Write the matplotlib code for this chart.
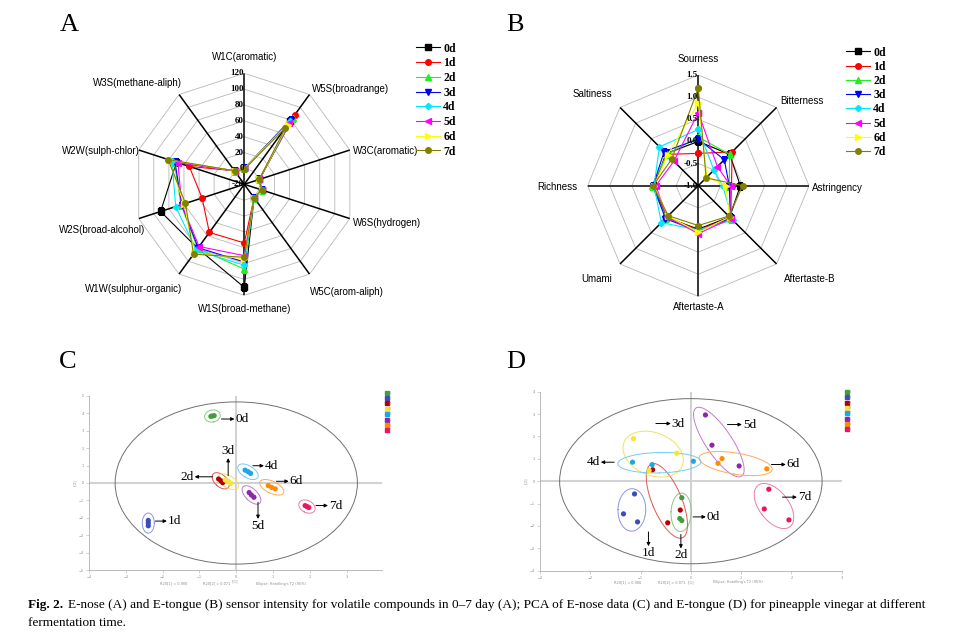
import numpy as np
import matplotlib
matplotlib.use("Agg")
import matplotlib.pyplot as plt
from matplotlib.lines import Line2D
from matplotlib.patches import Ellipse
from matplotlib.font_manager import FontProperties

# ---------------- data ----------------
days = ["0d", "1d", "2d", "3d", "4d", "5d", "6d", "7d"]

# E-nose sensors (panel A), clockwise from top
sensors = ["W1C(aromatic)", "W5S(broadrange)", "W3C(aromatic)", "W6S(hydrogen)",
           "W5C(arom-aliph)", "W1S(broad-methane)", "W1W(sulphur-organic)",
           "W2S(broad-alcohol)", "W2W(sulph-chlor)", "W3S(methane-aliph)"]
enose_0d = [0, 78, 0, 3, 1, 110, 80, 91, 70, 1]
enose_1d = [-1, 88, 0, 3, 1, 54, 55, 36, 53, 1]
enose_2d = [0, 84, 0, 3, 1, 87, 80, 64, 73, 1]
enose_3d = [0, 80, 0, 3, 1, 78, 79, 63, 72, 1]
enose_4d = [-1, 79, 0, 3, 1, 82, 83, 71, 76, 1]
enose_5d = [0, 76, 0, 3, 1, 70, 77, 63, 68, 1]
enose_6d = [0, 73, 0, 3, 1, 74, 87, 60, 80, 1]
enose_7d = [-1, 68, 0, 3, 1, 72, 89, 58, 81, 1]
enose_ticks = [-20, 0, 20, 40, 60, 80, 100, 120]

# E-tongue attributes (panel B), clockwise from top
tastes = ["Sourness", "Bitterness", "Astringency", "Aftertaste-B",
          "Aftertaste-A", "Umami", "Richness", "Saltiness"]
tongue_0d = [0.00, 0.00, -0.05, 0.00, -0.02, 0.02, 0.00, 0.03]
tongue_1d = [-0.27, 0.08, -0.25, 0.02, 0.00, 0.00, 0.00, 0.00]
tongue_2d = [0.10, 0.00, -0.30, 0.05, 0.02, 0.02, 0.05, 0.00]
tongue_3d = [0.05, -0.17, -0.30, 0.03, 0.03, 0.05, 0.02, 0.09]
tongue_4d = [0.27, -0.50, -0.45, 0.10, 0.00, 0.18, 0.00, 0.24]
tongue_5d = [0.65, -0.39, -0.27, 0.05, 0.08, 0.00, -0.04, -0.22]
tongue_6d = [0.87, -0.72, -0.38, 0.00, 0.05, -0.03, 0.00, -0.02]
tongue_7d = [1.20, -0.75, 0.00, -0.03, -0.10, -0.04, 0.02, -0.15]
tongue_ticks = [-1.0, -0.5, 0.0, 0.5, 1.0, 1.5]

# PCA scores, E-nose (panel C): three replicates per day
c_t1 = [[-0.69, -0.65, -0.60], [-2.39, -2.39, -2.39], [-0.48, -0.42, -0.37],
        [-0.30, -0.21, -0.15], [0.24, 0.32, 0.39], [0.35, 0.41, 0.48],
        [0.87, 0.96, 1.06], [1.87, 1.92, 1.97]]
c_t2 = [[3.83, 3.85, 3.87], [-2.15, -2.30, -2.46], [0.23, 0.13, 0.02],
        [0.17, 0.08, -0.02], [0.74, 0.65, 0.55], [-0.55, -0.69, -0.82],
        [-0.15, -0.25, -0.34], [-1.30, -1.35, -1.41]]
c_hotelling = (3.29, 4.66)

# PCA scores, E-tongue (panel D)
d_t1 = [[-0.18, -0.22, -0.18], [-1.12, -1.34, -1.06], [-0.76, -0.21, -0.46],
        [-1.14, -0.28, -0.83], [-1.16, -0.77, 0.05], [0.29, 0.42, 0.96],
        [0.62, 0.54, 1.51], [1.55, 1.46, 1.95]]
d_t2 = [[-0.74, -1.67, -1.76], [-0.57, -1.46, -1.82], [0.51, -1.29, -1.86],
        [1.90, 1.25, 0.48], [0.85, 0.74, 0.89], [2.96, 1.61, 0.68],
        [1.01, 0.80, 0.55], [-0.36, -1.24, -1.73]]
d_hotelling = (2.61, 3.69)

# ---------------- styles ----------------
line_colors = ["#000000", "#ff0000", "#22ee22", "#0000ff", "#00e8ff", "#ff00ff", "#ffff00", "#808000"]
line_markers = ["s", "o", "^", "v", "D", "<", ">", "o"]
dot_colors = ["#3f9f3f", "#3a4dbb", "#b30000", "#f7e43a", "#1ea5ea", "#8e25aa", "#ff8c00", "#e8175d"]
ring_colors = ["#86c986", "#8a96e0", "#e05858", "#f2e060", "#72cdf2", "#c27ad4", "#ffab55", "#f27aa0"]

serif = "Liberation Serif"
sans = "Liberation Sans"

fig = plt.figure(figsize=(9.55, 6.35), dpi=100)
W, H = 955.0, 635.0


def fig_rect(x0, y0, x1, y1):
    return [x0 / W, 1 - y1 / H, (x1 - x0) / W, (y1 - y0) / H]


def radar(ax, labels, series, ticks, ticklabels, label_pos):
    n = len(labels)
    ang = np.arange(n) * 2 * np.pi / n
    closed = np.append(ang, ang[0])
    rmin, rmax = ticks[0], ticks[-1]
    ax.set_theta_zero_location("N")
    ax.set_theta_direction(-1)
    ax.set_ylim(rmin, rmax)
    ax.grid(False)
    ax.set_xticks([])
    ax.set_yticks([])
    ax.spines["polar"].set_visible(False)
    ax.patch.set_alpha(0)
    for lv in ticks[1:]:
        ax.plot(closed, [lv] * (n + 1), color="#b8b8b8", lw=0.6, zorder=1)
    for a in ang:
        ax.plot([a, a], [rmin, rmax], color="k", lw=1.1, zorder=2)
    for lv, tl in zip(ticks, ticklabels):
        ax.annotate(tl, xy=(0, lv), xytext=(-0.3, 0), textcoords="offset points",
                    ha="right", va="center", fontsize=6.5, fontweight="bold",
                    family=serif, zorder=6)
    handles = []
    for vals, c, m, d in zip(series, line_colors, line_markers, days):
        v = np.append(vals, vals[0])
        ms = 3.2 if m == "D" else 4
        ln, = ax.plot(closed, v, color=c, marker=m, ms=ms, lw=0.8, label=d, zorder=3)
        handles.append(ln)
    for a, lab, (dx, dy, ha) in zip(ang, labels, label_pos):
        ax.annotate(lab, xy=(a, rmax), xytext=(dx, dy), textcoords="offset points",
                    ha=ha, va="center", fontsize=7, family=sans, annotation_clip=False)
    return handles


# ---------------- panel A ----------------
axA = fig.add_axes(fig_rect(133.3, 73.3, 355.3, 295.3), projection="polar")
posA = [(0, 11.5, "center"), (1.5, 3.7, "left"), (2.2, -0.7, "left"), (2.2, -3, "left"),
        (0, -13.2, "left"), (0, -10, "center"), (2, -10.7, "right"), (4.6, -8.2, "right"),
        (0.5, -0.7, "right"), (2, 8, "right")]
hA = radar(axA, sensors,
           [enose_0d, enose_1d, enose_2d, enose_3d, enose_4d, enose_5d, enose_6d, enose_7d],
           enose_ticks, [str(t) for t in enose_ticks], posA)

# ---------------- panel B ----------------
axB = fig.add_axes(fig_rect(587.6, 75.0, 809.0, 296.4), projection="polar")
posB = [(0, 11.5, "center"), (2.5, 4.6, "left"), (2.4, -1.4, "left"), (5.5, -10.8, "left"),
        (0, -7.4, "center"), (-6, -10.8, "right"), (-7.6, -1, "right"), (-6, 9.4, "right")]
hB = radar(axB, tastes,
           [tongue_0d, tongue_1d, tongue_2d, tongue_3d, tongue_4d, tongue_5d, tongue_6d, tongue_7d],
           tongue_ticks, ["%.1f" % t for t in tongue_ticks], posB)

leg_font = FontProperties(family=serif, weight="bold", size=8.5)
for handles, (lx, ly, ls) in [(hA, (416, 42.5, 0.23)), (hB, (846, 46.5, 0.19))]:
    fig.legend(handles, days, loc="upper left", bbox_to_anchor=(lx / W, 1 - ly / H),
               frameon=False, prop=leg_font, handlelength=2.0, handletextpad=0.3,
               labelspacing=ls, borderpad=0, borderaxespad=0)


# ---------------- PCA panels ----------------
def pca_panel(ax, t1, t2, xlim, ylim, xticks, yticks, hot, k, pad, notes, notes_y, leg_xy):
    ax.set_xlim(*xlim)
    ax.set_ylim(*ylim)
    ax.set_xticks(xticks)
    ax.set_yticks(yticks)
    for s in ["top", "right"]:
        ax.spines[s].set_visible(False)
    for s in ["left", "bottom"]:
        ax.spines[s].set_color("#b0b0b0")
        ax.spines[s].set_linewidth(0.6)
    ax.tick_params(length=2, width=0.4, color="#b0b0b0", labelsize=2.5,
                   labelcolor="#8a8a8a", pad=1.5)
    ax.axhline(0, color="#d2d2d2", lw=1.5, zorder=0)
    ax.axvline(0, color="#d2d2d2", lw=1.5, zorder=0)
    ax.add_patch(Ellipse((0, 0), 2 * hot[0], 2 * hot[1], fill=False, ec="#707070", lw=0.7))
    ax.set_xlabel("t[1]", fontsize=2.5, color="#8a8a8a", labelpad=0.5)
    ax.set_ylabel("t[2]", fontsize=2.5, color="#8a8a8a", labelpad=1)

    tt = np.linspace(0, 2 * np.pi, 120)
    inv = ax.transData.inverted()
    centers = []
    for xs, ys, dc, rc, d in zip(t1, t2, dot_colors, ring_colors, days):
        ax.scatter(xs, ys, s=14, color=dc, edgecolors="none", zorder=4)
        pts = ax.transData.transform(np.column_stack([xs, ys]))
        c = pts.mean(axis=0)
        w, v = np.linalg.eigh(np.cov(pts.T))
        semi = np.sqrt((k * np.sqrt(np.clip(w, 0, None))) ** 2 + pad ** 2)
        ring = c + (v @ np.vstack([semi[0] * np.cos(tt), semi[1] * np.sin(tt)])).T
        ring = inv.transform(ring)
        ax.plot(ring[:, 0], ring[:, 1], color=rc, lw=0.7, zorder=3)
        centers.append(c)

    for c, d, (tx, ty, hx, hy, ha, va) in zip(centers, days, notes):
        tail = inv.transform([c[0] + tx, c[1] - ty])
        head = inv.transform([c[0] + hx, c[1] - hy])
        ax.annotate("", xy=head, xytext=tail,
                    arrowprops=dict(arrowstyle="-|>", color="k", lw=0.7,
                                    mutation_scale=5, shrinkA=0, shrinkB=0))
        gx = {"left": 1, "right": -1, "center": 0}[ha]
        gy = {"bottom": -1, "top": 1, "center": 0}[va]
        lp = inv.transform([c[0] + hx + gx, c[1] - hy - gy])
        ax.text(lp[0], lp[1], d, ha=ha, va=va, fontsize=9.5, family=serif, zorder=5)

    for xf, txt in zip([0.29, 0.435, 0.655],
                       ["R2X[1] = 0.906", "R2X[2] = 0.071", "Ellipse: Hotelling's T2 (95%)"]):
        ax.text(xf, notes_y, txt, transform=ax.transAxes, ha="center", va="center",
                fontsize=2.5, color="#8a8a8a")

    hs = [Line2D([], [], marker="s", ls="", color=c, ms=3.2) for c in dot_colors]
    ax.legend(hs, [d[0] for d in days], loc="upper left", bbox_to_anchor=leg_xy,
              frameon=False, fontsize=2.2, labelspacing=0.45, handlelength=0.6,
              handletextpad=0.2, borderpad=0, borderaxespad=0, labelcolor="#8a8a8a")


axC = fig.add_axes(fig_rect(89, 396, 381.7, 570))
notesC = [(9, 3, 22, 3, "left", "center"), (7, -2, 18.6, -2, "left", "center"),
          (-8, -4, -26, -4, "right", "center"), (0, -6, 0, -23.6, "center", "bottom"),
          (5, -6, 16, -6, "left", "center"), (6.5, 7.4, 6.5, 24, "center", "top"),
          (4.7, -6, 17, -6, "left", "center"), (9, -1, 21, -1, "left", "center")]
pca_panel(axC, c_t1, c_t2, (-4, 3.95), (-5, 5), range(-4, 4), range(-5, 6),
          c_hotelling, 3.0, 6.0, notesC, -0.078, (1.015, 1.03))

axD = fig.add_axes(fig_rect(540, 391.7, 841.7, 570.7))
notesD = [(12, 4.6, 24.7, 4.6, "left", "center"), (16.6, 22, 16.6, 36.3, "center", "top"),
          (14, 33.6, 14, 47.6, "center", "top"), (2.7, -30.6, 17.7, -30.6, "left", "center"),
          (-45.2, -0.5, -58.5, -0.5, "right", "center"), (8.6, -17.5, 23, -17.5, "left", "center"),
          (35.8, 0.9, 50.2, 0.9, "left", "center"), (8.5, -8.9, 22.9, -8.9, "left", "center")]
pca_panel(axD, d_t1, d_t2, (-3, 3), (-4, 4), range(-3, 4), range(-4, 5),
          d_hotelling, 1.3, 10.0, notesD, -0.064, (1.014, 1.01))

# ---------------- panel letters and caption ----------------
for letter, (x, y) in zip("ABCD", [(69, 25), (515, 25), (68, 362), (516, 362)]):
    fig.text(x / W, 1 - y / H, letter, ha="center", va="center", fontsize=19, family=serif)

r = fig.canvas.get_renderer()
t0 = fig.text(28 / W, 1 - 605 / H, "Fig. 2.", fontsize=9.5, family=serif,
              fontweight="bold", va="center")
x1 = t0.get_window_extent(r).x1
fig.text((x1 + 5) / W, 1 - 605 / H,
         "E-nose (A) and E-tongue (B) sensor intensity for volatile compounds in 0\u20137 day (A); "
         "PCA of E-nose data (C) and E-tongue (D) for pineapple vinegar at different",
         fontsize=9.5, family=serif, va="center")
fig.text(28 / W, 1 - 623 / H, "fermentation time.", fontsize=9.5, family=serif, va="center")

fig.savefig("out.png", dpi=100)
